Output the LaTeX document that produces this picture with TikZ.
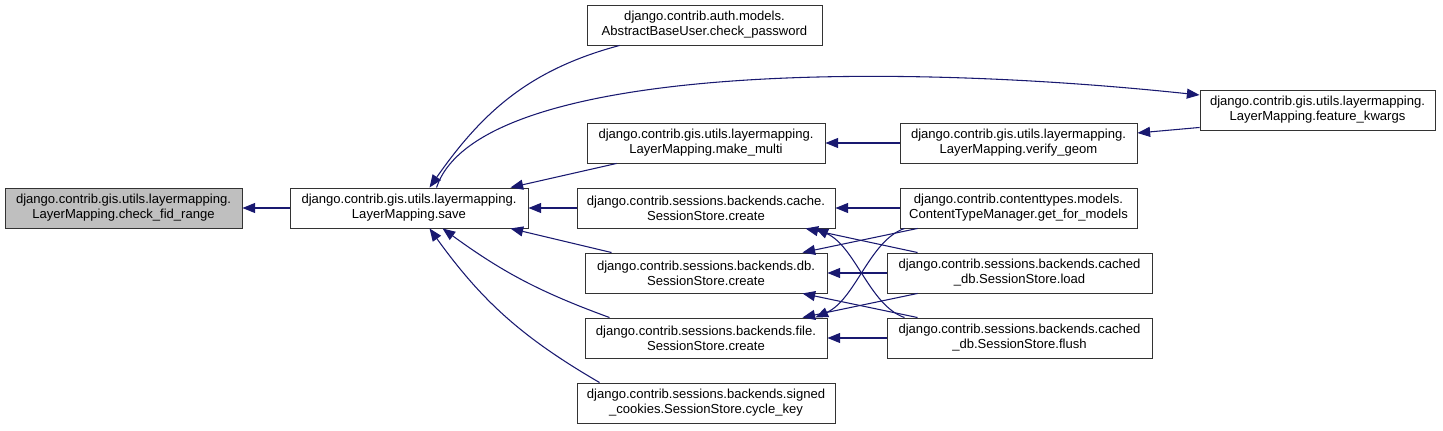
\documentclass[tikz,border=0pt]{standalone}
\usepackage{fontspec}
\setmainfont{Liberation Sans}
\usetikzlibrary{arrows.meta,calc}
\definecolor{callblue}{RGB}{25,25,112}
\tikzset{
  fn/.style={rectangle, draw=black!80, line width=0.7pt, fill=white, align=center, minimum width=#1,
             minimum height=30pt, inner sep=0pt, font=\fontsize{9.8}{11.3}\selectfont},
  fn/.default={178pt},
  focus/.style={fn=#1, fill=black!25},
  call/.style={-{Triangle[length=9.5pt,width=7.5pt]}, line width=0.8pt, callblue},
}
\begin{document}
\begin{tikzpicture}[x=0.75pt, y=-0.75pt]
\useasboundingbox (0,0) rectangle (1443,431);
\node[focus=177.75pt] (fid) at (123.5,208) {django.contrib.gis.utils.layermapping.\\LayerMapping.check\_fid\_range};
\node[fn=178.5pt] (save) at (409,208) {django.contrib.gis.utils.layermapping.\\LayerMapping.save};
\node[fn=176.25pt] (pwd) at (704.5,25) {django.contrib.auth.models.\\AbstractBaseUser.check\_password};
\node[fn=178.5pt] (multi) at (706,143) {django.contrib.gis.utils.layermapping.\\LayerMapping.make\_multi};
\node[fn=193.5pt] (cache) at (706,208) {django.contrib.sessions.backends.cache.\\SessionStore.create};
\node[fn=181.5pt] (db) at (706,273) {django.contrib.sessions.backends.db.\\SessionStore.create};
\node[fn=181.5pt] (file) at (706,338) {django.contrib.sessions.backends.file.\\SessionStore.create};
\node[fn=193.5pt] (cycle) at (706,403) {django.contrib.sessions.backends.signed\\\_cookies.SessionStore.cycle\_key};
\node[fn=177.75pt] (geom) at (1018.5,143) {django.contrib.gis.utils.layermapping.\\LayerMapping.verify\_geom};
\node[fn=177.75pt] (models) at (1018.5,208) {django.contrib.contenttypes.models.\\ContentTypeManager.get\_for\_models};
\node[fn=198.75pt] (load) at (1019.5,273) {django.contrib.sessions.backends.cached\\\_db.SessionStore.load};
\node[fn=198.75pt] (flush) at (1019.5,338) {django.contrib.sessions.backends.cached\\\_db.SessionStore.flush};
\node[fn=176.25pt] (kwargs) at (1317.5,110) {django.contrib.gis.utils.layermapping.\\LayerMapping.feature\_kwargs};

\draw[call] (save) -- (fid);
\draw[call] ($(pwd.south west)+(33,0)$) to[out=195, in=55] ($(save.north west)+(140,0)$);
\draw[call] ($(save.north west)+(147,0)$) .. controls +(40,-120) and +(-330,-35) .. ($(kwargs.west)+(0,-15)$);
\draw[call] ($(multi.south west)+(30,0)$) -- ($(save.north east)+(-18,0)$);
\draw[call] (cache) -- (save);
\draw[call] ($(db.north west)+(27,0)$) -- ($(save.south east)+(-18,0)$);
\draw[call] ($(file.north west)+(25,0)$) to[bend left=8] ($(save.south west)+(153,0)$);
\draw[call] ($(cycle.north west)+(23,0)$) to[bend left=12] ($(save.south west)+(140,0)$);
\draw[call] (geom) -- (multi);
\draw[call] ($(kwargs.south west)+(0,-3)$) -- ($(geom.east)+(0,-10)$);
\draw[call] (models) -- (cache);
\draw[call] ($(models.south west)+(18,0)$) -- ($(db.north east)+(-25,0)$);
\draw[call] ($(models.south west)+(5,0)$) .. controls +(-35,12) and +(40,-18) .. ($(file.north east)+(-12,0)$);
\draw[call] ($(load.north west)+(31,0)$) -- ($(cache.south east)+(-30,0)$);
\draw[call] (load) -- (db);
\draw[call] ($(load.south west)+(31,0)$) -- ($(file.north east)+(-25,0)$);
\draw[call] ($(flush.north west)+(18,0)$) .. controls +(-35,-12) and +(40,18) .. ($(cache.south east)+(-20,0)$);
\draw[call] ($(flush.north west)+(31,0)$) -- ($(db.south east)+(-25,0)$);
\draw[call] (flush) -- (file);
\end{tikzpicture}
\end{document}
